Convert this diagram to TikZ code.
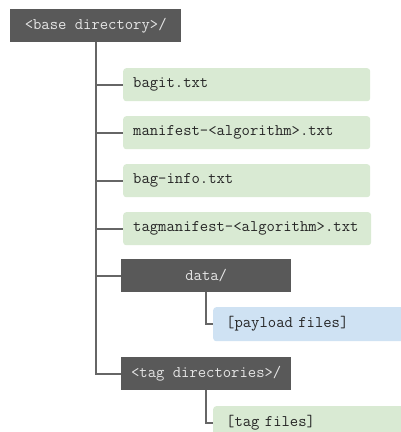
\documentclass[tikz,border=0pt]{standalone}
\usepackage{fontspec}
\begin{document}
\begin{tikzpicture}[x=1pt,y=-1pt,
  every node/.style={font=\ttfamily\fontsize{16.2}{19}\selectfont},
  dirbox/.style={fill=dirgray,text=white!90!black,minimum height=33pt,inner sep=0pt,anchor=north west},
  filebox/.style={rounded corners=3pt,minimum height=33pt,inner xsep=10pt,inner ysep=0pt,anchor=north west,align=left,text=black!85},
  conn/.style={draw=linegray,line width=1.6pt}]
\definecolor{dirgray}{HTML}{595959}
\definecolor{linegray}{HTML}{666666}
\definecolor{filegreen}{HTML}{D9EAD3}
\definecolor{fileblue}{HTML}{CFE2F3}
\useasboundingbox (0,0) rectangle (401,432);
\clip (0,0) rectangle (401,432);
\node[dirbox,minimum width=171pt] (base) at (10,9) {<base directory>/};
\node[filebox,fill=filegreen,text width=227pt] (bagit) at (123,68) {bagit.txt};
\node[filebox,fill=filegreen,text width=227pt] (manifest) at (123,116) {manifest-<algorithm>.txt};
\node[filebox,fill=filegreen,text width=227pt] (baginfo) at (123,164) {bag-info.txt};
\node[filebox,fill=filegreen,text width=228pt] (tagmanifest) at (123,212) {tagmanifest-<algorithm>.txt};
\node[dirbox,minimum width=170pt] (data) at (121,259) {data/};
\node[filebox,fill=fileblue,text width=200pt,inner xsep=13pt,minimum height=34pt] (payload) at (213,307) {[payload files]};
\node[dirbox,minimum width=170pt] (tagdir) at (121,357) {<tag directories>/};
\node[filebox,fill=filegreen,text width=200pt,inner xsep=13pt,minimum height=34pt] (tagfiles) at (213,406) {\raisebox{2pt}{[tag files]}};
\coordinate (trunkend) at (base.south |- tagdir.west);
\draw[conn] (base.south) -- (trunkend) -- (tagdir.west);
\foreach \n in {bagit,manifest,baginfo,tagmanifest,data}
  \draw[conn] (base.south |- \n.west) -- (\n.west);
\draw[conn] (data.south) |- (payload.west);
\draw[conn] (tagdir.south) |- (tagfiles.west);
\end{tikzpicture}
\end{document}
